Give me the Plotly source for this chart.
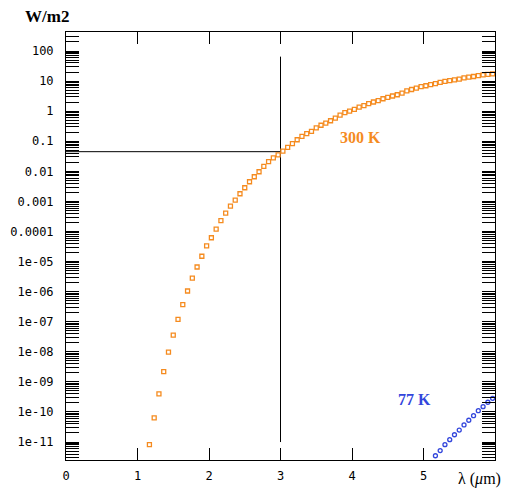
import math
import plotly.graph_objects as go

# ---- data ----
wl_300 = [1.1667, 1.2333, 1.3, 1.3667, 1.4333, 1.5, 1.5667, 1.6333, 1.7, 1.7667, 1.8333, 1.9, 1.9667,
          2.0333, 2.1, 2.1667, 2.2333, 2.3, 2.3667, 2.4333, 2.5, 2.5667, 2.6333, 2.7, 2.7667, 2.8333, 2.9, 2.9667,
          3.0333, 3.1, 3.1667, 3.2333, 3.3, 3.3667, 3.4333, 3.5, 3.5667, 3.6333, 3.7, 3.7667, 3.8333, 3.9, 3.9667,
          4.0333, 4.1, 4.1667, 4.2333, 4.3, 4.3667, 4.4333, 4.5, 4.5667, 4.6333, 4.7, 4.7667, 4.8333, 4.9, 4.9667,
          5.0333, 5.1, 5.1667, 5.2333, 5.3, 5.3667, 5.4333, 5.5, 5.5667, 5.6333, 5.7, 5.7667, 5.8333, 5.9, 5.9667]
pw_300 = [8.2e-12, 6.4e-11, 4.0e-10, 2.2e-9, 9.8e-9, 3.6e-8, 1.2e-7, 3.7e-7, 1.05e-6, 2.8e-6, 6.6e-6, 1.5e-5, 3.3e-5,
          6.2e-5, 1.2e-4, 2.3e-4, 4.1e-4, 7.0e-4, 1.1e-3, 1.8e-3, 2.85e-3, 4.5e-3, 6.6e-3, 9.7e-3, 1.45e-2, 2.1e-2, 2.8e-2, 3.5e-2,
          0.047, 0.063, 0.083, 0.112, 0.146, 0.178, 0.214, 0.28, 0.34, 0.40, 0.48, 0.59, 0.74, 0.89, 1.0,
          1.15, 1.37, 1.52, 1.77, 2.02, 2.23, 2.59, 2.89, 3.19, 3.52, 4.0, 4.7, 5.25, 5.8, 6.5,
          7.0, 7.6, 8.2, 9.1, 9.8, 10.3, 10.9, 11.7, 12.8, 13.5, 14.2, 15.1, 16.0, 16.8, 17.5]
wl_77 = [5.1667, 5.2333, 5.3, 5.3667, 5.4333, 5.5, 5.5667, 5.6333, 5.7, 5.7667, 5.8333, 5.9, 5.9667]
pw_77 = [3.5e-12, 5.2e-12, 8.2e-12, 1.2e-11, 1.75e-11, 2.5e-11, 3.7e-11, 5.3e-11, 7.5e-11, 1.1e-10, 1.5e-10, 2.1e-10, 2.85e-10]

cut_lambda = 3.0
cut_level = 0.045
vline_span = [1e-11, 65]

x_ticks = [0, 1, 2, 3, 4, 5, 6]
x_tick_text = ["0", "1", "2", "3", "4", "5", ""]
y_tick_vals = [100, 10, 1, 0.1, 0.01, 0.001, 0.0001, 1e-5, 1e-6, 1e-7, 1e-8, 1e-9, 1e-10, 1e-11]
y_tick_text = ["100", "10", "1", "0.1", "0.01", "0.001", "0.0001", "1e-05", "1e-06", "1e-07",
               "1e-08", "1e-09", "1e-10", "1e-11"]

ORANGE = "#f58b1f"
BLUE = "#3346dc"

minor_vals = [m * 10.0 ** e for e in range(-12, 3) for m in range(2, 10)]

fig = go.Figure()
fig.add_trace(go.Scatter(x=[0, cut_lambda], y=[cut_level, cut_level], mode="lines",
                         line=dict(color="black", width=1), hoverinfo="skip", showlegend=False))
fig.add_trace(go.Scatter(x=[cut_lambda, cut_lambda], y=vline_span, mode="lines",
                         line=dict(color="black", width=1), hoverinfo="skip", showlegend=False))
fig.add_trace(go.Scatter(x=wl_300, y=pw_300, mode="markers", name="300 K",
                         marker=dict(symbol="square-open", size=4, color=ORANGE, line=dict(width=1.3, color=ORANGE)),
                         showlegend=False))
fig.add_trace(go.Scatter(x=wl_77, y=pw_77, mode="markers", name="77 K",
                         marker=dict(symbol="circle-open", size=4, color=BLUE, line=dict(width=1.3, color=BLUE)),
                         showlegend=False))

fig.update_layout(
    width=505, height=491,
    margin=dict(l=66, r=10, t=32, b=31),
    paper_bgcolor="white", plot_bgcolor="white",
    font=dict(family="DejaVu Sans Mono", size=12, color="black"),
    xaxis=dict(range=[0, 6], tickmode="array", tickvals=x_ticks, ticktext=x_tick_text,
               ticks="inside", ticklen=12, tickcolor="black", tickwidth=1,
               showline=True, linecolor="black", linewidth=1, mirror="ticks",
               showgrid=False, zeroline=False, ticklabelstandoff=5, automargin=False),
    yaxis=dict(type="log", range=[-11.597, 2.632], tickmode="array", tickvals=y_tick_vals, ticktext=y_tick_text,
               ticks="inside", ticklen=13, tickcolor="black", tickwidth=1,
               showline=True, linecolor="black", linewidth=1, mirror="ticks",
               showgrid=False, zeroline=False, ticklabelstandoff=9, automargin=False,
               minor=dict(tickmode="array", tickvals=minor_vals, ticks="inside", ticklen=13,
                          tickcolor="black", tickwidth=1, showgrid=False)),
)

fig.add_annotation(text="<b>W/m2</b>", xref="paper", yref="paper", x=-0.044, y=1.037,
                   xanchor="center", yanchor="middle", showarrow=False,
                   font=dict(family="Liberation Serif", size=17, color="black"))
fig.add_annotation(text="λ (<i>μ</i>m)", xref="paper", yref="paper", x=0.963, y=-0.044,
                   xanchor="center", yanchor="middle", showarrow=False,
                   font=dict(family="Liberation Serif", size=16, color="black"))
fig.add_annotation(text="<b>300 K</b>", xref="x", yref="y", x=4.12, y=math.log10(0.138),
                   xanchor="center", yanchor="middle", showarrow=False,
                   font=dict(family="Liberation Serif", size=16, color=ORANGE))
fig.add_annotation(text="<b>77 K</b>", xref="x", yref="y", x=4.88, y=math.log10(2.5e-10),
                   xanchor="center", yanchor="middle", showarrow=False,
                   font=dict(family="Liberation Serif", size=16, color=BLUE))

fig.write_html("out.html", config={"displayModeBar": False},
               post_script="document.body.style.margin='0';document.body.style.overflow='hidden';")
